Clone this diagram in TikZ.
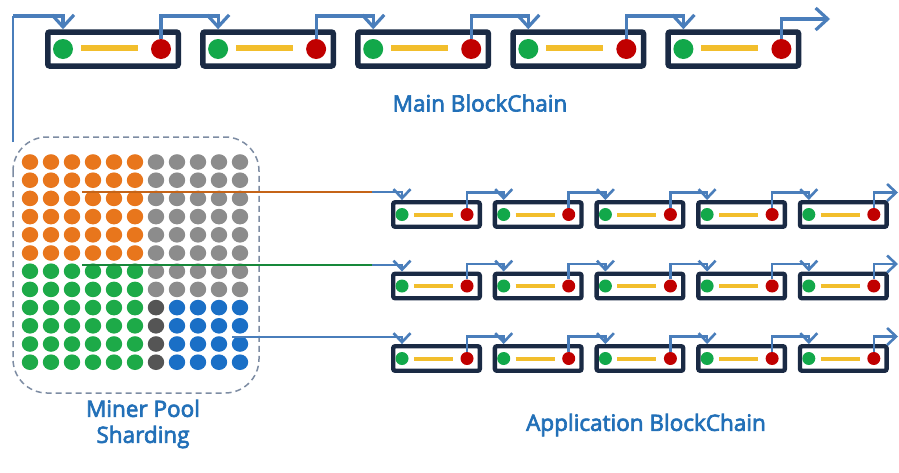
\documentclass[tikz,border=0pt]{standalone}
\usepackage{fontspec}
\setmainfont{Open Sans}
\newfontfamily\labfont{Open Sans}[FakeBold=3]
\usetikzlibrary{arrows.meta}
\definecolor{navy}{HTML}{1A2A44}
\definecolor{dgreen}{HTML}{12A84A}
\definecolor{dred}{HTML}{C00000}
\definecolor{ybar}{HTML}{F2BE2C}
\definecolor{linkblue}{HTML}{4A7EBB}
\definecolor{labblue}{HTML}{2270B8}
\definecolor{porange}{HTML}{E8761C}
\definecolor{pgray}{HTML}{8C8C8C}
\definecolor{pdgray}{HTML}{555555}
\definecolor{pgreen}{HTML}{1DAA48}
\definecolor{pblue}{HTML}{1A6FC6}
\definecolor{dashcol}{HTML}{7D8CA3}
\begin{document}
\begin{tikzpicture}[x=1pt,y=-1pt,
  mbox/.style={draw=navy,line width=5.5pt,rounded corners=2pt,minimum width=130.5pt,minimum height=34pt,inner sep=0pt},
  abox/.style={draw=navy,line width=4.4pt,rounded corners=2pt,minimum width=86.6pt,minimum height=24.5pt,inner sep=0pt},
  gdotbig/.style={circle,fill=dgreen,inner sep=0pt,minimum size=20pt},
  rdotbig/.style={circle,fill=dred,inner sep=0pt,minimum size=20pt},
  gdot/.style={circle,fill=dgreen,inner sep=0pt,minimum size=13pt},
  rdot/.style={circle,fill=dred,inner sep=0pt,minimum size=13pt},
  ybarstyle/.style={draw=ybar,line width=6pt},
  mlink/.style={draw=linkblue,line width=3.2pt,-{Straight Barb[length=12pt,width=22pt,line width=3.2pt]}},
  alink/.style={draw=linkblue,line width=2.6pt,-{Straight Barb[length=9pt,width=17pt,line width=2.6pt]}},
  lab/.style={text=labblue,font=\labfont\fontsize{22.5}{26}\selectfont,inner sep=0pt}
]
\useasboundingbox (0,0) rectangle (899,472);
\fill[white] (0,0) rectangle (899,472);

% ---------- main chain ----------
\foreach \i in {0,...,4}{
  \pgfmathsetmacro\bx{45+155.1*\i}
  \node[mbox] (M\i) at (\bx+68,49) {};
  \node[gdotbig] (MG\i) at (\bx+18,49) {};
  \node[rdotbig] (MR\i) at (\bx+116,49) {};
  \draw[ybarstyle] (\bx+36,48) -- (\bx+93,48);
}
\coordinate (MT) at (0,16);
\coordinate (S0) at (13,142);
\draw[draw=linkblue,line width=2.2pt] (S0) -- (S0 |- MT);
\draw[mlink] (S0 |- MT) -- (MG0 |- MT) -- (MG0 |- M0.north);
\foreach \i [count=\j from 1] in {0,...,3}{
  \draw[mlink] (MR\i.north) |- (MG\j |- MT) -- (MG\j |- M\j.north);
}
\coordinate (ME) at (830,19);
\draw[mlink] (MR4.north) |- (ME);
\node[lab] (mainlab) at (480,103) {Main BlockChain};

% ---------- application chains ----------
\foreach \r/\c in {1/214.5,2/286,3/358.5}{
  \coordinate (L\r) at (0,\c-22);
  \foreach \i in {0,...,4}{
    \pgfmathsetmacro\bx{391+101.7*\i}
    \node[abox] (A\r\i) at (\bx+45.5,\c) {};
    \node[gdot] (AG\r\i) at (\bx+11,\c) {};
    \node[rdot] (AR\r\i) at (\bx+76,\c) {};
    \draw[ybarstyle,line width=4pt] (\bx+23,\c) -- (\bx+62,\c);
  }
  \foreach \i [count=\j from 1] in {0,...,3}{
    \draw[alink] (AR\r\i.north) |- (AG\r\j |- L\r) -- (AG\r\j |- A\r\j.north);
  }
  \coordinate (AE\r) at (898,\c-22);
  \draw[alink] (AR\r4.north) |- (AE\r);
}
\node[lab] (applab) at (646,425) {Application BlockChain};

% ---------- miner pool ----------
\draw[dashcol,line width=1.5pt,dash pattern=on 6pt off 4pt,rounded corners=34pt] (13,137) rectangle (259,393);
\foreach \row in {0,...,11}{
  \foreach \col in {0,...,10}{
    \pgfmathsetmacro\px{30+21*\col}
    \pgfmathsetmacro\py{162+18.2*\row}
    \pgfmathtruncatemacro\cid{\row<6 ? (\col<6 ? 1 : 2) : (\col<6 ? 3 : (\row<8 ? 2 : (\col==6 ? 4 : 5)))}
    \ifcase\cid\or
      \fill[porange] (\px,\py) ellipse (8.2pt and 7.8pt);
    \or
      \fill[pgray] (\px,\py) ellipse (8.2pt and 7.8pt);
    \or
      \fill[pgreen] (\px,\py) ellipse (8.2pt and 7.8pt);
    \or
      \fill[pdgray] (\px,\py) ellipse (8.2pt and 7.8pt);
    \or
      \fill[pblue] (\px,\py) ellipse (8.2pt and 7.8pt);
    \fi
  }
}
\node[lab,align=center] (poollab) at (143,424) {Miner Pool\\Sharding};

% ---------- shard links ----------
\coordinate (P1) at (82,192);
\coordinate (J1) at (372,192);
\coordinate (P2) at (82,265);
\coordinate (J2) at (372,265);
\coordinate (P3) at (232,337);
\draw[porange!85!black,line width=1.6pt] (P1) -- (J1);
\draw[alink] (J1) -| (A10.north -| AG10);
\draw[pgreen!80!black,line width=1.6pt] (P2) -- (J2);
\draw[alink] (J2) -| (A20.north -| AG20);
\draw[alink,line width=1.6pt] (P3) -| (A30.north -| AG30);
\end{tikzpicture}
\end{document}
